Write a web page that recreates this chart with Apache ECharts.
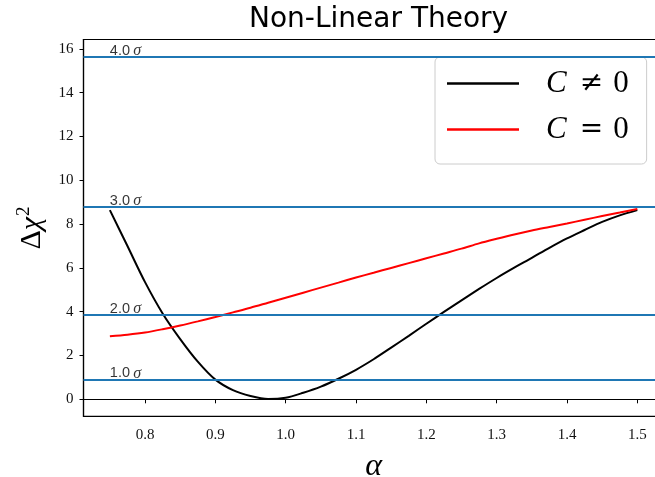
<!DOCTYPE html>
<html>
<head>
<meta charset="utf-8">
<script src="https://cdn.jsdelivr.net/npm/echarts@6/dist/echarts.min.js"></script>
<style>
html,body{margin:0;padding:0;background:#fff;}
#chart{width:655px;height:477px;}
</style>
</head>
<body>
<div id="chart"></div>
<script>
// ---- data ----
var alpha = [0.75,0.775,0.80,0.825,0.85,0.875,0.90,0.925,0.95,0.975,1.00,1.025,1.05,1.075,1.10,1.125,1.15,1.175,1.20,1.225,1.25,1.275,1.30,1.325,1.35,1.375,1.40,1.425,1.45,1.475,1.50];
var chiC = [8.64,7.00,5.35,3.92,2.75,1.72,0.90,0.42,0.15,0.01,0.07,0.30,0.58,0.94,1.35,1.83,2.36,2.90,3.45,3.99,4.52,5.04,5.54,6.01,6.46,6.92,7.35,7.73,8.10,8.40,8.64];
var chiC0 = [2.88,2.95,3.05,3.20,3.37,3.56,3.76,3.97,4.18,4.41,4.64,4.87,5.10,5.33,5.56,5.78,6.00,6.22,6.44,6.66,6.88,7.12,7.33,7.53,7.71,7.87,8.03,8.20,8.37,8.53,8.69];
var sigmaLevels = [0.91, 3.85, 8.79, 15.65];
var sigmaNames = ['1.0', '2.0', '3.0', '4.0'];
var xTicks = [0.8,0.9,1.0,1.1,1.2,1.3,1.4,1.5];
var yTicks = [0,2,4,6,8,10,12,14,16];
var seriesNames = ['C \u2260 0', 'C = 0'];
var titleText = 'Non-Linear Theory';

function pairs(xs, ys){ return xs.map(function(x,i){ return [x, ys[i]]; }); }

var chart = echarts.init(document.getElementById('chart'), null, {renderer:'canvas'});
var serif = 'Liberation Serif';
var tickFont = {fontFamily: serif, fontSize: 15, color: '#111'};

var option = {
  animation: false,
  backgroundColor: '#fff',
  title: {
    text: titleText,
    left: 373.6,
    textAlign: 'center',
    top: 1,
    textStyle: {fontFamily: 'DejaVu Sans', fontSize: 28, fontWeight: 'normal', color: '#000'}
  },
  grid: {
    left: 83.5, top: 39.5, right: -8.7, bottom: 60.6,
    show: true, borderColor: '#000', borderWidth: 1.2, backgroundColor: 'transparent',
    outerBoundsMode: 'none'
  },
  legend: {
    orient: 'vertical',
    left: 435, top: 57,
    data: seriesNames,
    icon: 'rect',
    itemWidth: 72, itemHeight: 2.5,
    itemGap: 15,
    padding: [11, 18, 19, 12],
    backgroundColor: 'rgba(255,255,255,0.8)',
    borderColor: '#cccccc', borderWidth: 1, borderRadius: 5,
    formatter: function(name){
      var op = name.indexOf('\u2260') >= 0 ? '\u2260' : '=';
      return '{c|C}{o|' + op + '}{z|0}';
    },
    textStyle: {
      rich: {
        c: {fontFamily: serif, fontStyle: 'italic', fontSize: 31, lineHeight: 34, padding: [0, 13, 0, 22], color: '#000'},
        o: {fontFamily: 'DejaVu Serif', fontSize: 28, lineHeight: 34, padding: [0, 10, 0, 0], color: '#000'},
        z: {fontFamily: serif, fontSize: 31, lineHeight: 34, color: '#000'}
      }
    }
  },
  xAxis: {
    type: 'value', min: 0.7125, max: 1.5375,
    name: '\u03b1', nameLocation: 'middle', nameGap: 34,
    nameTextStyle: {fontFamily: serif, fontStyle: 'italic', fontSize: 32, color: '#000'},
    axisLine: {show: true, lineStyle: {color: '#000', width: 1.2}},
    axisTick: {show: true, length: 4, customValues: xTicks, lineStyle: {color: '#000', width: 1}},
    axisLabel: Object.assign({customValues: xTicks, margin: 11, formatter: function(v){ return v.toFixed(1); }}, tickFont),
    splitLine: {show: false}
  },
  yAxis: {
    type: 'value', min: -0.78, max: 16.43,
    name: '{d|\u0394}{c|\u03c7}{s|2}', nameLocation: 'middle', nameGap: 30, nameRotate: 90,
    nameTextStyle: {
      rich: {
        d: {fontFamily: serif, fontSize: 30, color: '#000', lineHeight: 36},
        c: {fontFamily: serif, fontStyle: 'italic', fontSize: 30, color: '#000', lineHeight: 36},
        s: {fontFamily: serif, fontSize: 19, color: '#000', verticalAlign: 'top', lineHeight: 36, padding: [0,0,14,1]}
      }
    },
    axisLine: {show: true, lineStyle: {color: '#000', width: 1.2}},
    axisTick: {show: true, length: 4, customValues: yTicks, lineStyle: {color: '#000', width: 1}},
    axisLabel: Object.assign({customValues: yTicks, margin: 10, formatter: function(v){ return String(Math.round(v)); }}, tickFont),
    splitLine: {show: false}
  },
  series: [
    {
      name: seriesNames[0], type: 'line', data: pairs(alpha, chiC),
      smooth: 0.3, symbol: 'none', color: '#000000',
      lineStyle: {color: '#000000', width: 2}, z: 2
    },
    {
      name: seriesNames[1], type: 'line', data: pairs(alpha, chiC0),
      smooth: 0.3, symbol: 'none', color: '#ff0000',
      lineStyle: {color: '#ff0000', width: 2}, z: 2
    },
    {
      name: 'sigma', type: 'scatter', z: 3,
      symbolSize: 0, silent: true,
      data: sigmaLevels.map(function(v, i){ return {value: [alpha[0], v], name: sigmaNames[i]}; }),
      label: {
        show: true, position: [0, 0], align: 'left', verticalAlign: 'bottom', offset: [0, 2],
        formatter: function(p){ return '{n|' + p.name + '} {s|\u03c3}'; },
        rich: {
          n: {fontFamily: 'Liberation Sans', fontSize: 14.5, color: '#000'},
          s: {fontFamily: serif, fontStyle: 'italic', fontSize: 16, color: '#000'}
        }
      },
      markLine: {
        silent: true, symbol: ['none', 'none'], animation: false,
        label: {show: false},
        lineStyle: {color: '#1f77b4', width: 2, type: 'solid'},
        emphasis: {disabled: true},
        data: sigmaLevels.map(function(v){ return {yAxis: v}; })
      }
    }
  ]
};
chart.setOption(option);
</script>
</body>
</html>
